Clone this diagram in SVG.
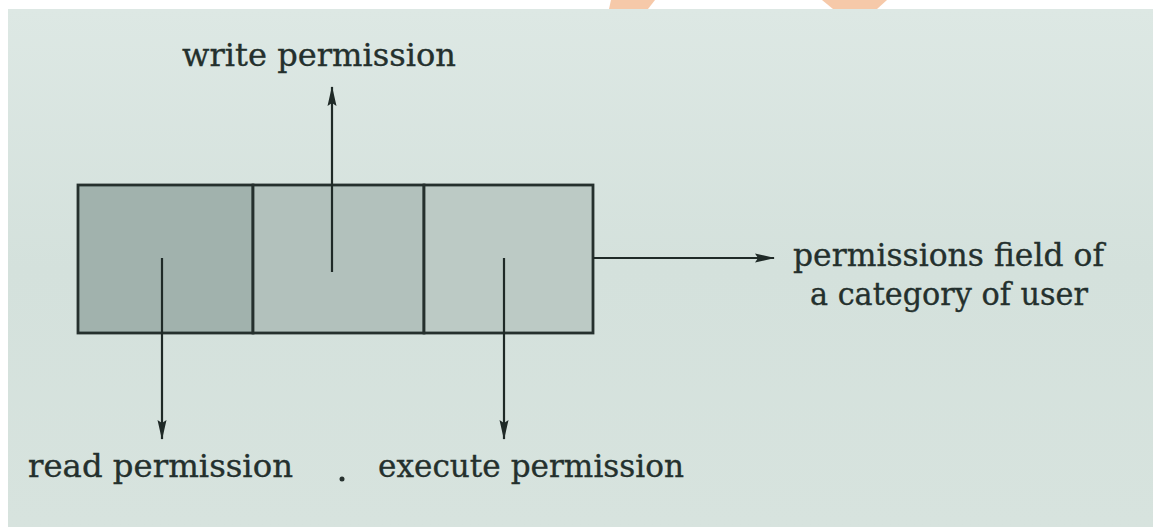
<svg xmlns="http://www.w3.org/2000/svg" width="1153" height="527" viewBox="0 0 1153 527">
  <style>
    .lbl { font-family: "DejaVu Serif", "Liberation Serif", serif; font-size: 32px; fill: #24302d; stroke: #24302d; stroke-width: 0.35; }
    .cell { stroke: #25302d; stroke-width: 2.8; }
    .conn { stroke: #1f2a27; stroke-width: 2.2; fill: none; }
  </style>
  <defs>
    <linearGradient id="page" x1="0" y1="0" x2="0" y2="1">
      <stop offset="0" stop-color="#dde8e4"/>
      <stop offset="0.5" stop-color="#d4e1dc"/>
      <stop offset="1" stop-color="#d7e3de"/>
    </linearGradient>
    <marker id="ah" viewBox="0 0 20 10" refX="19" refY="5" markerWidth="20" markerHeight="10" markerUnits="userSpaceOnUse" orient="auto">
      <path d="M0,0.5 L20,5 L0,9.5 L3,5 z" fill="#1f2a27"/>
    </marker>
  </defs>

  <rect x="0" y="0" width="1153" height="527" fill="#ffffff"/>
  <rect x="8" y="9" width="1145" height="518" fill="url(#page)"/>
  <polygon points="611,0 655,0 648,9 609,9" fill="#f6c9a9"/>
  <polygon points="822,0 887,0 877,9 833,9" fill="#f6c9a9"/>

  <g id="field">
    <rect id="cell-read" class="cell" x="78" y="185" width="175" height="148" fill="#a1b2ad"/>
    <rect id="cell-write" class="cell" x="253" y="185" width="171" height="148" fill="#b2c1bc"/>
    <rect id="cell-execute" class="cell" x="424" y="185" width="169" height="148" fill="#bccac5"/>
  </g>

  <g id="connectors">
    <line class="conn" x1="332" y1="272" x2="332" y2="87" marker-end="url(#ah)"/>
    <line class="conn" x1="162" y1="258" x2="162" y2="439" marker-end="url(#ah)"/>
    <line class="conn" x1="504" y1="258" x2="504" y2="439" marker-end="url(#ah)"/>
    <line class="conn" x1="593" y1="258" x2="774" y2="258" marker-end="url(#ah)"/>
  </g>

  <g id="label-write">
    <text class="lbl" x="182" y="66" textLength="274" lengthAdjust="spacingAndGlyphs">write permission</text>
  </g>
  <g id="label-field">
    <text class="lbl" x="793" y="266" textLength="311" lengthAdjust="spacingAndGlyphs">permissions field of</text>
    <text class="lbl" x="810" y="305" textLength="278" lengthAdjust="spacingAndGlyphs">a category of user</text>
  </g>
  <g id="label-read">
    <text class="lbl" x="28" y="477" textLength="265" lengthAdjust="spacingAndGlyphs">read permission</text>
  </g>
  <circle cx="342" cy="479" r="2.5" fill="#27322f"/>
  <g id="label-execute">
    <text class="lbl" x="378" y="477" textLength="306" lengthAdjust="spacingAndGlyphs">execute permission</text>
  </g>
</svg>
